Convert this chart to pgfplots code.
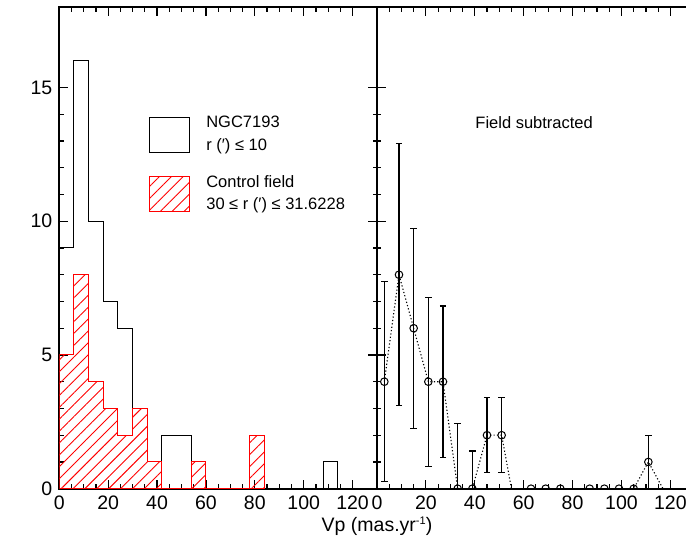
\documentclass[border=0pt]{standalone}
\usepackage{fontspec}
\setmainfont{Liberation Sans}
\usepackage{pgfplots}
\pgfplotsset{compat=1.18}
\usetikzlibrary{patterns.meta}

\pgfplotsset{
  panel/.style={
    scale only axis,
    height=240.7pt,
    ymin=0, ymax=18,
    ytick={0,5,10,15}, minor y tick num=4,
    xtick={0,20,...,120}, minor x tick num=3,
    tick align=inside,
    major tick length=4.5pt, minor tick length=2.2pt,
    axis line style={line width=0.85pt},
    every tick/.style={black, line width=0.6pt},
    tick label style={font=\fontsize{9.75}{11}\selectfont},
    xticklabel style={yshift=-1.5pt, inner sep=2pt},
    /pgf/number format/assume math mode=true,
    clip marker paths=true,
  }
}

\begin{document}
\begin{tikzpicture}
% left: observed histograms
\begin{axis}[panel, name=L, at={(0,0)}, anchor=south west,
  width=158.85pt, xmin=0, xmax=130]
\addplot[black, line width=0.5pt, const plot] coordinates {
  (0,9) (6,16) (12,10) (18,7) (24,6) (30,3) (36,1) (42,2) (48,2) (54,0)
  (60,0) (66,0) (72,0) (78,0) (84,0) (90,0) (96,0) (102,0) (108,1) (114,0) (120,0)};
\addplot[red, line width=0.5pt, const plot,
  pattern={Lines[angle=45,distance=4.2pt,line width=0.45pt]}, pattern color=red]
  coordinates {
  (0,5) (6,8) (12,4) (18,3) (24,2) (30,3) (36,1) (42,0) (48,0) (54,1)
  (60,0) (66,0) (72,0) (78,2) (84,0)} \closedcycle;
% legend
\draw[black, line width=0.5pt] (axis cs:36.8,12.56) rectangle (axis cs:53.1,13.89);
\draw[red, line width=0.5pt, pattern={Lines[angle=45,distance=4.2pt,line width=0.45pt]}, pattern color=red]
  (axis cs:36.8,10.38) rectangle (axis cs:53.1,11.69);
\node[anchor=base west, inner sep=0, font=\fontsize{8.25}{10}\selectfont] at (axis cs:60,13.49) {NGC7193};
\node[anchor=base west, inner sep=0, font=\fontsize{8.25}{10}\selectfont] at (axis cs:60,12.65) {r (′) ≤ 10};
\node[anchor=base west, inner sep=0, font=\fontsize{8.25}{10}\selectfont] at (axis cs:60,11.25) {Control field};
\node[anchor=base west, inner sep=0, font=\fontsize{8.25}{10}\selectfont] at (axis cs:60,10.45) {30 ≤ r (′) ≤ 31.6228};
\node[rotate=90, font=\fontsize{9.25}{11}\selectfont] at ([xshift=-19.65pt]rel axis cs:0,0.512) {N (stars)};
\end{axis}

% right: field subtracted
\begin{axis}[panel, name=R, at={(L.south east)}, anchor=south west,
  width=154.5pt, xmin=0, xmax=126.4, axis y line*=left, yticklabels={}]
\addplot[black, line width=0.55pt, dash pattern=on 0.6pt off 1.1pt] coordinates {
  (3,4) (9,8) (15,6) (21,4) (27,4) (33,0) (39,0) (45,2) (51,2) (57,-1)
  (63,0) (69,0) (75,0) (81,-2) (87,0) (93,0) (99,0) (105,0) (111,1) (117,0)};
\addplot[black, only marks, mark=o, mark size=1.9pt, mark options={line width=0.5pt},
  error bars/.cd, y dir=both, y explicit,
  error bar style={line width=0.55pt},
  error mark options={rotate=90, mark size=1.6pt, line width=0.55pt}]
  coordinates {
  (3,4) +- (0,3.74)
  (9,8) +- (0,4.90)
  (15,6) +- (0,3.74)
  (21,4) +- (0,3.16)
  (27,4) +- (0,2.83)
  (33,0) +- (0,2.45)
  (39,0) +- (0,1.41)
  (45,2) +- (0,1.41)
  (51,2) +- (0,1.41)
  (63,0) +- (0,0)
  (69,0) +- (0,0)
  (75,0) +- (0,0)
  (87,0) +- (0,0)
  (93,0) +- (0,0)
  (99,0) +- (0,0)
  (105,0) +- (0,0)
  (111,1) +- (0,1.0)};
\node[anchor=base west, inner sep=0, font=\fontsize{8.25}{10}\selectfont] at (axis cs:40.1,13.45) {Field subtracted};
\end{axis}

\node[anchor=base, inner sep=0, font=\fontsize{9.75}{11}\selectfont] at ([yshift=-21.6pt]L.south east)
  {Vp (mas.yr\raisebox{0.75ex}{\fontsize{5.5}{6}\selectfont -1})};

\pgfresetboundingbox
\path[use as bounding box] ([xshift=-29.65pt,yshift=-24.65pt]L.south west) rectangle ([yshift=3.65pt]R.north east);
\end{tikzpicture}
\end{document}
